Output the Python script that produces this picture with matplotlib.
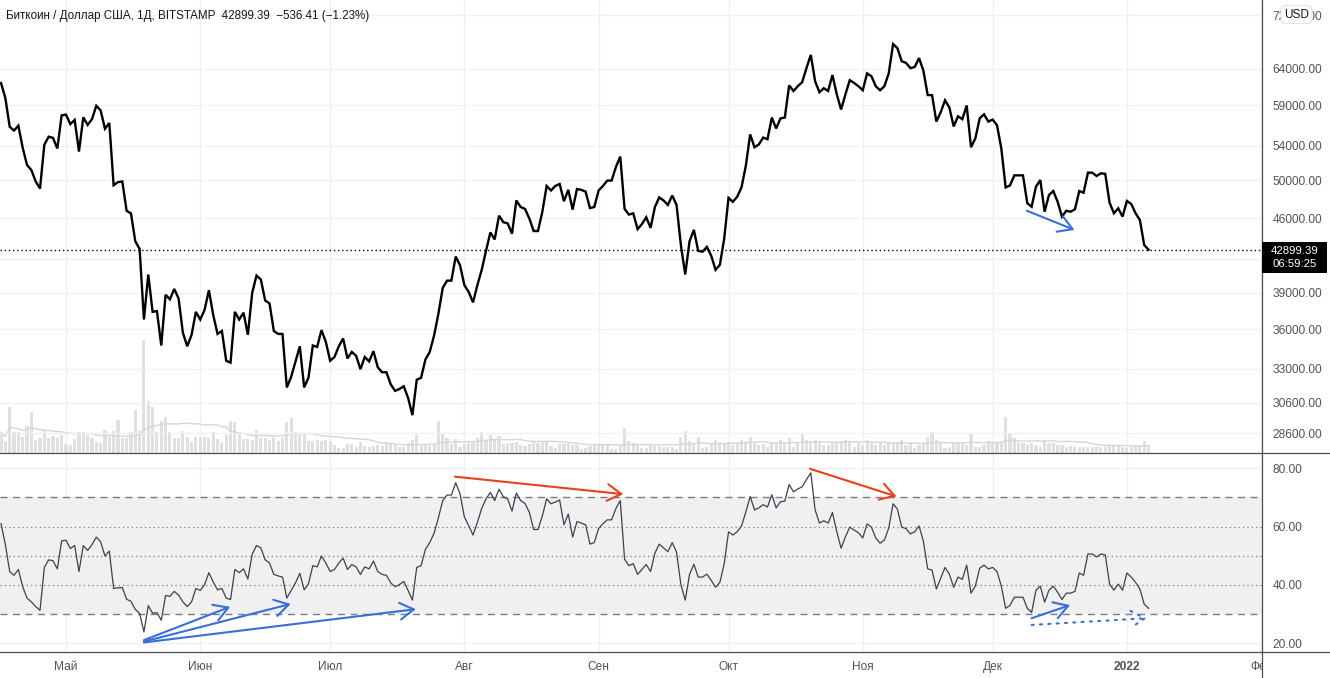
import numpy as np
import pandas as pd
import matplotlib
matplotlib.use("Agg")
import matplotlib.pyplot as plt
import matplotlib.dates as mdates
from matplotlib.patches import Rectangle
from matplotlib.lines import Line2D
from matplotlib.ticker import FixedLocator, NullLocator

plt.rcParams["font.family"] = ["Liberation Sans", "DejaVu Sans"]

# ---------------- data ----------------
start_date = "2021-04-16"

close = [
    62010, 59960, 56290, 55820, 56430, 53740, 51730, 51160, 49890, 49100,
    54100, 55070, 54920, 53650, 57730, 57820, 56620, 57150, 53290, 57480,
    56520, 57240, 58960, 58360, 56050, 56760, 49470, 49810, 49890, 46750,
    46490, 43710, 42980, 36770, 40620, 37400, 37460, 34720, 38840, 38450,
    39340, 38520, 35700, 34660, 35550, 37400, 36770, 37560, 39230, 37140,
    35620, 35850, 33570, 33430, 37400, 36770, 37330, 35550, 39010, 40520,
    40170, 38350, 38100, 35850, 35620, 35620, 31650, 32400, 33520, 34660,
    31650, 32340, 34720, 34610, 35920, 35010, 33570, 33850, 34660, 35260,
    33740, 34230, 33940, 32950, 33850, 33520, 34290, 33090, 32730, 32730,
    31860, 31410, 31540, 31730, 30930, 29770, 32190, 32330, 33660, 34230,
    35490, 37240, 39430, 40070, 40070, 42260, 41450, 39670, 39080, 38190,
    39670, 41030, 42800, 44570, 43890, 46250, 45590, 45470, 44450, 47830,
    47150, 46950, 45970, 44710, 44710, 46640, 49390, 48900, 49390, 49610,
    47760, 48970, 46880, 49060, 48970, 48770, 47040, 47150, 48900, 49390,
    49980, 49980, 51510, 52700, 46950, 46360, 46490, 44900, 45400, 46090,
    45020, 47150, 48160, 47830, 47360, 48360, 47360, 43340, 40620, 43710,
    44830, 42790, 42710, 43170, 42340, 41040, 41490, 43950, 48110, 47690,
    48230, 49230, 51650, 55350, 53800, 54130, 54960, 54760, 57440, 56080,
    57340, 57440, 61680, 60920, 61570, 62110, 64070, 65980, 62240, 60750,
    61290, 60920, 63100, 60470, 58480, 60470, 62390, 62010, 61570, 61020,
    63330, 62940, 61570, 61020, 61570, 63330, 67570, 66970, 65050, 64820,
    64070, 64240, 65510, 63730, 60370, 60370, 56940, 58120, 59680, 58740,
    56330, 57610, 57240, 59000, 53800, 54860, 57340, 57860, 56940, 57190,
    56490, 53650, 49230, 49450, 50560, 50560, 50560, 47540, 47180, 49310,
    50040, 46660, 48410, 48840, 47700, 46150, 46760, 46660, 46910, 48840,
    48660, 50860, 50860, 50490, 50790, 50730, 47600, 46500, 47010, 46150,
    47780, 47460, 46500, 45810, 43350, 42899.39,
]

rsi = [
    61.0, 53.8, 44.6, 43.3, 45.3, 39.4, 35.5, 34.2, 32.6, 31.3,
    46.0, 48.6, 48.3, 45.5, 55.1, 55.3, 52.5, 53.5, 44.6, 53.5,
    51.8, 53.8, 56.4, 54.8, 49.9, 51.6, 38.8, 39.0, 39.1, 35.1,
    34.4, 31.6, 30.3, 23.9, 32.9, 30.3, 30.5, 27.9, 36.4, 36.1,
    37.8, 36.5, 34.2, 32.6, 34.2, 38.8, 38.1, 40.1, 44.2, 41.0,
    38.3, 38.8, 35.5, 35.0, 45.3, 44.2, 45.5, 42.0, 50.5, 53.5,
    52.7, 48.6, 47.5, 43.6, 43.1, 42.7, 35.5, 38.1, 40.7, 44.0,
    38.3, 40.4, 46.6, 46.2, 49.9, 47.5, 44.6, 45.3, 47.5, 49.2,
    45.3, 47.0, 46.2, 43.6, 46.2, 45.5, 48.2, 44.6, 43.6, 43.3,
    40.7, 39.4, 40.1, 41.2, 38.1, 34.8, 46.0, 46.6, 52.2, 54.5,
    57.7, 63.0, 68.9, 70.8, 70.8, 75.0, 71.2, 63.3, 60.3, 57.1,
    61.4, 66.2, 69.5, 71.7, 68.9, 72.8, 70.2, 69.5, 65.3, 71.5,
    68.9, 67.9, 64.9, 59.0, 59.0, 63.6, 69.5, 67.8, 68.4, 69.1,
    60.6, 64.3, 56.4, 61.7, 61.2, 60.6, 54.0, 54.5, 59.3, 61.0,
    62.3, 62.3, 66.2, 68.9, 48.8, 46.6, 47.3, 43.6, 45.3, 47.0,
    44.6, 50.9, 54.0, 52.7, 51.4, 54.5, 51.2, 40.1, 34.8, 43.6,
    47.1, 42.7, 42.7, 43.7, 41.6, 39.2, 40.9, 47.2, 58.2, 57.1,
    58.2, 60.2, 65.0, 70.3, 65.7, 66.4, 67.5, 66.7, 70.9, 66.4,
    68.5, 68.7, 74.4, 71.9, 72.9, 73.6, 76.1, 78.4, 65.7, 61.2,
    62.0, 61.2, 64.8, 58.2, 52.6, 56.5, 59.8, 58.8, 57.9, 56.1,
    60.9, 59.8, 56.1, 54.3, 55.4, 59.5, 67.8, 66.0, 59.8, 59.3,
    57.5, 58.2, 60.2, 55.0, 45.5, 45.1, 38.6, 42.3, 46.0, 43.7,
    39.2, 42.7, 41.9, 46.8, 37.2, 39.6, 45.7, 46.8, 45.5, 46.0,
    44.6, 39.6, 32.0, 33.0, 35.8, 35.8, 35.8, 32.0, 30.6, 38.2,
    39.6, 34.1, 38.2, 39.6, 37.5, 35.0, 37.2, 37.2, 37.8, 44.1,
    43.3, 50.6, 50.6, 49.6, 50.6, 50.3, 40.3, 38.2, 40.3, 38.2,
    44.1, 42.7, 40.9, 38.6, 33.4, 32.0,
]

volume = [
    6300, 3700, 13800, 6300, 6300, 4800, 8300, 12300, 4000, 4500,
    6600, 4600, 5200, 4500, 5400, 2800, 2500, 4300, 6300, 6300,
    5600, 4500, 3300, 3100, 7100, 4800, 6800, 10000, 4500, 4500,
    6300, 12900, 6800, 33900, 15800, 13800, 6300, 9800, 10800, 6300,
    4600, 4500, 6600, 4800, 3300, 4800, 4800, 4800, 4500, 6300,
    4300, 3100, 5400, 9700, 9500, 6500, 4300, 4300, 4000, 7000,
    4700, 4700, 4000, 4900, 3700, 4600, 9300, 10500, 6500, 5500,
    5700, 3700, 3800, 4000, 3700, 4000, 3700, 2500, 1700, 1700,
    2700, 2700, 2000, 3300, 2300, 2000, 2300, 2500, 2300, 3300,
    3000, 2500, 1800, 1800, 3000, 4000, 5500, 2700, 2700, 2200,
    2500, 9700, 5700, 4700, 2700, 4300, 2000, 2700, 3000, 3700,
    4700, 6300, 3700, 5500, 4300, 5300, 2700, 3000, 3000, 3300,
    2500, 2300, 2700, 3700, 3000, 3500, 3500, 2300, 1700, 2700,
    2700, 2700, 2500, 2500, 1200, 1700, 2300, 2700, 2700, 2700,
    2700, 1300, 1300, 2500, 7500, 3700, 3000, 2700, 1500, 1700,
    2700, 2300, 2300, 2000, 2000, 2000, 1300, 5000, 6700, 3700,
    3000, 4800, 1500, 2000, 3000, 4000, 3500, 3000, 3500, 2500,
    3000, 4000, 3000, 4800, 3000, 2500, 2800, 2000, 3000, 3500,
    4000, 3000, 4500, 2000, 3000, 6200, 4000, 3500, 4000, 3500,
    2500, 2500, 3000, 3500, 3800, 4000, 3500, 2000, 3000, 2500,
    4000, 3000, 2500, 3000, 2500, 3000, 3000, 3500, 4000, 2500,
    3000, 1500, 2500, 3000, 5000, 6500, 4000, 3500, 1500, 2000,
    3500, 3000, 3000, 2500, 5800, 2000, 2000, 2500, 3800, 3500,
    3500, 3500, 11000, 5800, 4500, 3500, 3000, 2500, 3000, 2500,
    2000, 4000, 3000, 3000, 2500, 2500, 2000, 2200, 2200, 2000,
    2000, 2000, 2000, 1800, 2000, 2000, 2500, 2500, 2500, 2000,
    1500, 2000, 2500, 2500, 3800, 2500,
]

# price scale: gridline levels; 42000 has its label hidden by the last-price box
price_ticks = [28600, 30600, 33000, 36000, 39000, 42000, 46000, 50000,
               54000, 59000, 64000, 72000]
price_hidden_labels = [42000]
rsi_ticks = [20, 40, 60, 80]
month_starts = ["2021-05-01", "2021-06-01", "2021-07-01", "2021-08-01",
                "2021-09-01", "2021-10-01", "2021-11-01", "2021-12-01",
                "2022-01-01", "2022-02-01"]
month_labels = ["Май", "Июн", "Июл", "Авг", "Сен", "Окт", "Ноя", "Дек",
                "2022", "Фев"]

title = "Биткоин / Доллар США, 1Д, BITSTAMP  42899.39  \u2212536.41 (\u22121.23%)"
last_price = 42899.39
countdown = "06:59:25"

# annotation arrows: (start day index, start value, end day index, end value)
price_arrows = [(236.9, 46760, 247.9, 44820)]
rsi_blue_arrows = [(33.0, 21.1, 52.9, 32.5),
                   (33.0, 20.6, 66.9, 33.5),
                   (33.0, 20.3, 95.8, 31.7),
                   (238.0, 28.6, 246.9, 33.1)]
rsi_red_arrows = [(104.8, 77.1, 143.7, 71.1),
                  (186.8, 79.8, 206.8, 70.3)]
rsi_dotted_arrows = [(238.0, 26.3, 264.6, 28.6)]

# ---------------- figure ----------------
W, H = 1330, 678
fig = plt.figure(figsize=(W / 100, H / 100), dpi=100)
fig.patch.set_facecolor("white")


def fx(px):
    return px / W


def fy(py):
    return 1 - py / H


AXR = 1262.0      # right edge of plotting area
P_BOT = 453.3     # price pane bottom
R_BOT = 651.5     # rsi pane bottom

dates = pd.date_range(start_date, periods=len(close), freq="D")
xd = mdates.date2num(dates)
d0 = xd[0]
xlim = (d0 - 0.24, d0 + 291.2)

grid_c = "#eef0f4"
text_c = "#50535e"
sep_c = "#4a4d57"

# volume axes (behind)
axv = fig.add_axes([0, fy(P_BOT), fx(AXR), fy(0) - fy(P_BOT)])
axv.bar(xd, volume, width=0.72, color="#e0e0e0", zorder=2)
vol_ma = pd.Series(volume).rolling(20, min_periods=1).mean()
axv.plot(xd, vol_ma, color="#d6d6d6", lw=1.0, zorder=3)
axv.set_ylim(0, 136000)
axv.set_xlim(*xlim)
axv.axis("off")
month_nums = [mdates.date2num(pd.Timestamp(m)) for m in month_starts]
for m in month_nums:
    axv.axvline(m, color=grid_c, lw=1, zorder=1)
axv.set_zorder(0)

# price axes
ax = fig.add_axes([0, fy(P_BOT), fx(AXR), fy(0) - fy(P_BOT)])
ax.set_zorder(1)
ax.patch.set_alpha(0)
ax.set_yscale("log")
ax.set_ylim(27364, 74480)
ax.set_xlim(*xlim)
for t in price_ticks:
    ax.axhline(t, color=grid_c, lw=1, zorder=0)
ax.plot(xd, close, color="black", lw=1.7, zorder=5, solid_joinstyle="miter")
ax.axhline(last_price, color="black", lw=1.0, ls=(0, (1, 2)), zorder=4)
ax.yaxis.tick_right()
ax.yaxis.set_major_locator(FixedLocator(price_ticks))
ax.yaxis.set_minor_locator(NullLocator())
ax.set_yticklabels(["" if t in price_hidden_labels else f"{t:.2f}"
                    for t in price_ticks])
ax.tick_params(axis="y", length=0, pad=7.5, labelsize=8.6, labelcolor=text_c)
ax.set_xticks([])
for s in ax.spines.values():
    s.set_visible(False)

for (s_i, s_v, e_i, e_v) in price_arrows:
    ax.annotate("", xy=(d0 + e_i, e_v), xytext=(d0 + s_i, s_v),
                arrowprops=dict(arrowstyle="->,head_length=0.5,head_width=0.3",
                                color="#3a6fd8", lw=1.5, mutation_scale=20,
                                shrinkA=0, shrinkB=0), zorder=6)

# rsi axes
axr = fig.add_axes([0, fy(R_BOT), fx(AXR), fy(P_BOT) - fy(R_BOT)])
axr.set_xlim(*xlim)
axr.set_ylim(17.2, 85.1)
axr.axhspan(30, 70, color="#f0f0f0", lw=0, zorder=0)
for m in month_nums:
    axr.axvline(m, color=grid_c, lw=1, zorder=0.5)
for t in rsi_ticks:
    axr.axhline(t, color=grid_c, lw=1, zorder=0.5)
for lvl in (70, 30):
    axr.axhline(lvl, color="#787b86", lw=1, ls=(0, (5, 4)), zorder=1)
for lvl in (60, 50, 40):
    axr.axhline(lvl, color="#787b86", lw=0.9, ls=(0, (1, 2.5)), zorder=1)
axr.plot(xd, rsi, color="#3e414c", lw=0.9, zorder=3)

axr.yaxis.tick_right()
axr.set_yticks(rsi_ticks)
axr.set_yticklabels([f"{t:.2f}" for t in rsi_ticks])
axr.tick_params(axis="y", length=0, pad=7.5, labelsize=8.6, labelcolor=text_c)
axr.set_xticks(month_nums)
axr.set_xticklabels(month_labels)
axr.tick_params(axis="x", length=0, pad=6.5, labelsize=8.6, labelcolor=text_c)
for lab in axr.get_xticklabels():
    if lab.get_text() == "2022":
        lab.set_fontweight("bold")
for s in axr.spines.values():
    s.set_visible(False)


def rsi_arrow(s_i, s_v, e_i, e_v, color, ls="-"):
    axr.annotate("", xy=(d0 + e_i, e_v), xytext=(d0 + s_i, s_v),
                 arrowprops=dict(arrowstyle="->,head_length=0.5,head_width=0.3",
                                 color=color, lw=1.5, ls=ls, mutation_scale=20,
                                 shrinkA=0, shrinkB=0), zorder=6,
                 annotation_clip=False)


for a in rsi_blue_arrows:
    rsi_arrow(*a, color="#3a6fd8")
for a in rsi_red_arrows:
    rsi_arrow(*a, color="#e8401c")
for a in rsi_dotted_arrows:
    rsi_arrow(*a, color="#3a6fd8", ls=(0, (1, 3)))

# ---------------- overlays in figure coords ----------------
# cover the corner under the price scale (clips "Фев")
fig.patches.append(Rectangle((fx(AXR), 0), 1 - fx(AXR), fy(R_BOT) - 0,
                             transform=fig.transFigure, facecolor="white",
                             edgecolor="none", zorder=10))
# separators
for (x0, y0, x1, y1) in [(0, P_BOT, W, P_BOT), (0, R_BOT, W, R_BOT),
                         (AXR, 0, AXR, H)]:
    fig.lines.append(Line2D([fx(x0), fx(x1)], [fy(y0), fy(y1)],
                            transform=fig.transFigure, color=sep_c, lw=0.9,
                            zorder=11))

# last price label (price + countdown in one two-line text)
fig.patches.append(Rectangle((fx(AXR), fy(272.7)), fx(1327) - fx(AXR),
                             fy(242.3) - fy(272.7), transform=fig.transFigure,
                             facecolor="black", edgecolor="none", zorder=12))
fig.text(fx(1295), fy(257.3), f"{last_price:.2f}\n{countdown}", color="white",
         fontsize=8.2, ha="center", va="center", linespacing=1.3,
         multialignment="center", zorder=13)

# USD badge (covers the middle of the top price label, as in the original)
fig.text(fx(1296.5), fy(14.5), "USD", color="#131722", fontsize=8.6,
         ha="center", va="center", zorder=13,
         bbox=dict(boxstyle="round,pad=0.25,rounding_size=0.4",
                   facecolor="white", edgecolor="#e0e3eb", lw=0.8))

# title
fig.text(fx(6), fy(15.5), title, color="#131722", fontsize=8.4,
         ha="left", va="center", zorder=13)

fig.savefig("out.png", dpi=100)
